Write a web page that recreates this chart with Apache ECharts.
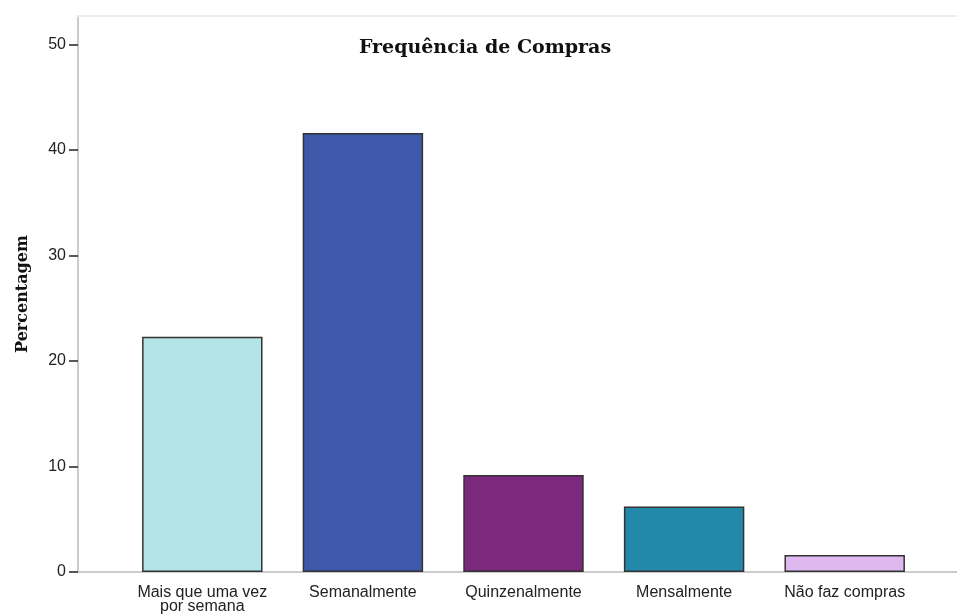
<!DOCTYPE html>
<html>
<head>
<meta charset="utf-8">
<script src="https://cdn.jsdelivr.net/npm/echarts@6/dist/echarts.min.js"></script>
<style>
  html, body { margin: 0; padding: 0; background: #fff; }
  #chart { width: 957px; height: 615px; }
</style>
</head>
<body>
<div id="chart"></div>
<script>
const categories = ['Mais que uma vez\npor semana', 'Semanalmente', 'Quinzenalmente', 'Mensalmente', 'Não faz compras'];
const percentages = [22.3, 41.6, 9.2, 6.2, 1.6];
const barColors = ['#b4e5e6', '#3e58aa', '#7c287c', '#2389aa', '#dfb8f0'];
const yTicks = [0, 10, 20, 30, 40, 50];

const chartDom = document.getElementById('chart');
const myChart = echarts.init(chartDom);
let option;

const yMax = 52.7;

option = {
  animation: false,
  title: {
    text: 'Frequência de Compras',
    left: 480,
    top: 34,
    textAlign: 'center',
    textStyle: { fontFamily: 'DejaVu Serif', fontWeight: 'bold', fontSize: 19, color: '#111' }
  },
  grid: [
    { left: 78, right: 0, top: 16, bottom: 43 },
    { left: 122, right: 32, top: 16, bottom: 43 }
  ],
  xAxis: [
    {
      gridIndex: 0, type: 'category', data: [''],
      axisLine: { lineStyle: { color: '#cccccc', width: 2 } },
      axisTick: { show: false }, axisLabel: { show: false }
    },
    {
      gridIndex: 0, type: 'category', data: [''], position: 'top',
      axisLine: { lineStyle: { color: '#ececec', width: 2 } },
      axisTick: { show: false }, axisLabel: { show: false }
    },
    {
      gridIndex: 1, type: 'category', data: categories,
      axisLine: { show: false },
      axisTick: { alignWithLabel: true, length: 8, lineStyle: { color: '#222', width: 1.5 } },
      axisLabel: { color: '#222', fontFamily: 'Liberation Sans', fontSize: 16, margin: 14, lineHeight: 14, interval: 0 }
    }
  ],
  yAxis: [
    {
      gridIndex: 0, type: 'value', min: 0, max: yMax,
      name: 'Percentagem', nameLocation: 'middle', nameGap: 47, nameRotate: 90,
      nameTextStyle: { fontFamily: 'DejaVu Serif', fontWeight: 'bold', fontSize: 16, color: '#111' },
      splitLine: { show: false },
      axisLine: { show: true, lineStyle: { color: '#cccccc', width: 2 } },
      axisTick: { show: true, length: 9, customValues: yTicks, lineStyle: { color: '#222', width: 1.5 } },
      axisLabel: { customValues: yTicks, color: '#222', fontFamily: 'Liberation Sans', fontSize: 16, margin: 12 }
    },
    {
      gridIndex: 1, type: 'value', min: 0, max: yMax, show: false, splitLine: { show: false }
    }
  ],
  series: [
    {
      type: 'bar',
      xAxisIndex: 2,
      yAxisIndex: 1,
      barWidth: '75%',
      data: percentages.map((v, i) => ({
        value: v,
        itemStyle: { color: barColors[i], borderColor: '#333', borderWidth: 1.5 }
      }))
    }
  ]
};

option && myChart.setOption(option);
</script>
</body>
</html>
